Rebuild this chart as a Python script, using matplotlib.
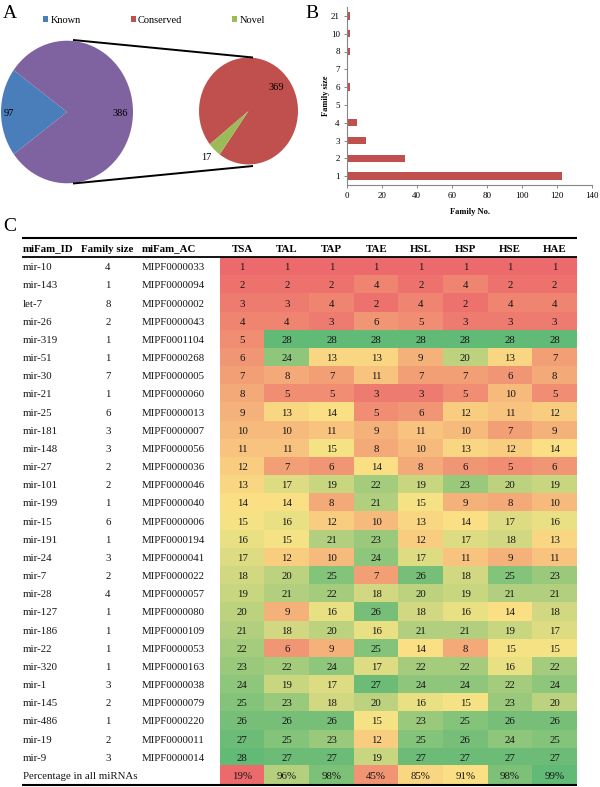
import numpy as np
import matplotlib
matplotlib.use("Agg")
import matplotlib.pyplot as plt
from matplotlib.colors import LinearSegmentedColormap, TwoSlopeNorm

plt.rcParams["font.family"] = ["Liberation Serif", "DejaVu Serif"]

# ---- panel A data ----
mirna_labels = ["Known", "Conserved", "Novel"]
big_pie = [97, 386]          # known vs (conserved + novel)
small_pie = [369, 17]        # conserved vs novel

# ---- panel B data ----
family_sizes = ["1", "2", "3", "4", "5", "6", "7", "8", "10", "21"]
family_counts = [123, 33, 11, 6, 1, 2, 1, 2, 2, 2]

# ---- panel C data ----
tissues = ["TSA", "TAL", "TAP", "TAE", "HSL", "HSP", "HSE", "HAE"]
fam_ids = ["mir-10", "mir-143", "let-7", "mir-26", "mir-319", "mir-51", "mir-30",
           "mir-21", "mir-25", "mir-181", "mir-148", "mir-27", "mir-101", "mir-199",
           "mir-15", "mir-191", "mir-24", "mir-7", "mir-28", "mir-127", "mir-186",
           "mir-22", "mir-320", "mir-1", "mir-145", "mir-486", "mir-19", "mir-9"]
fam_size = [4, 1, 8, 2, 1, 1, 7, 1, 6, 3, 3, 2, 2, 1, 6, 1, 3, 2, 4, 1, 1, 1, 1, 3,
            2, 1, 2, 3]
fam_ac = ["MIPF0000033", "MIPF0000094", "MIPF0000002", "MIPF0000043", "MIPF0001104",
          "MIPF0000268", "MIPF0000005", "MIPF0000060", "MIPF0000013", "MIPF0000007",
          "MIPF0000056", "MIPF0000036", "MIPF0000046", "MIPF0000040", "MIPF0000006",
          "MIPF0000194", "MIPF0000041", "MIPF0000022", "MIPF0000057", "MIPF0000080",
          "MIPF0000109", "MIPF0000053", "MIPF0000163", "MIPF0000038", "MIPF0000079",
          "MIPF0000220", "MIPF0000011", "MIPF0000014"]
ranks = [
    [1, 1, 1, 1, 1, 1, 1, 1],
    [2, 2, 2, 4, 2, 4, 2, 2],
    [3, 3, 4, 2, 4, 2, 4, 4],
    [4, 4, 3, 6, 5, 3, 3, 3],
    [5, 28, 28, 28, 28, 28, 28, 28],
    [6, 24, 13, 13, 9, 20, 13, 7],
    [7, 8, 7, 11, 7, 7, 6, 8],
    [8, 5, 5, 3, 3, 5, 10, 5],
    [9, 13, 14, 5, 6, 12, 11, 12],
    [10, 10, 11, 9, 11, 10, 7, 9],
    [11, 11, 15, 8, 10, 13, 12, 14],
    [12, 7, 6, 14, 8, 6, 5, 6],
    [13, 17, 19, 22, 19, 23, 20, 19],
    [14, 14, 8, 21, 15, 9, 8, 10],
    [15, 16, 12, 10, 13, 14, 17, 16],
    [16, 15, 21, 23, 12, 17, 18, 13],
    [17, 12, 10, 24, 17, 11, 9, 11],
    [18, 20, 25, 7, 26, 18, 25, 23],
    [19, 21, 22, 18, 20, 19, 21, 21],
    [20, 9, 16, 26, 18, 16, 14, 18],
    [21, 18, 20, 16, 21, 21, 19, 17],
    [22, 6, 9, 25, 14, 8, 15, 15],
    [23, 22, 24, 17, 22, 22, 16, 22],
    [24, 19, 17, 27, 24, 24, 22, 24],
    [25, 23, 18, 20, 16, 15, 23, 20],
    [26, 26, 26, 15, 23, 25, 26, 26],
    [27, 25, 23, 12, 25, 26, 24, 25],
    [28, 27, 27, 19, 27, 27, 27, 27],
]
percent = [19, 96, 98, 45, 85, 91, 98, 99]

W, H = 600, 787
fig = plt.figure(figsize=(W / 100, H / 100), dpi=100)

# full-figure axes in pixel units for table + panel letters
axc = fig.add_axes([0, 0, 1, 1])
axc.set_xlim(0, W); axc.set_ylim(H, 0); axc.axis("off")

for lab, x, y in [("A", 3, 18.5), ("B", 305, 18.5), ("C", 3, 231)]:
    axc.text(x, y, lab, fontsize=14, ha="left", va="baseline")

# ===== A: pies =====
A_H, STR = 205, 1.08
axa = fig.add_axes([0, 1 - A_H / H, 300 / W, A_H / H])


def pa(px, py):
    return px, (A_H - py) / STR


blue, purple, red, green = "#4A7EBB", "#7F62A0", "#C0504D", "#9BBB59"
w_big, _ = axa.pie(big_pie, colors=[blue, purple], startangle=144,
                   center=pa(67, 112), radius=66, frame=True,
                   wedgeprops=dict(linewidth=0))
w_small, _ = axa.pie(small_pie, colors=[red, green], startangle=234.4,
                     center=pa(248.5, 111), radius=49.5, frame=True,
                     wedgeprops=dict(linewidth=0))
axa.set_aspect("auto")
axa.set_xlim(0, 300); axa.set_ylim(0, A_H / STR)
axa.axis("off")

for (x0, y0), (x1, y1) in [((73, 40), (253, 57.5)), ((73, 183.5), (253, 166))]:
    p0, p1 = pa(x0, y0), pa(x1, y1)
    axa.plot([p0[0], p1[0]], [p0[1], p1[1]], color="black", lw=1.4,
             solid_capstyle="butt")

for val, (px, py) in zip(big_pie + small_pie,
                         [(8.5, 113.5), (120.5, 113.5), (276.5, 87.5), (206.7, 158)]):
    axa.text(*pa(px, py), str(val), fontsize=7.5, ha="center", va="center")

axa.legend([w_big[0], w_small[0], w_small[1]], mirna_labels, ncol=3,
           frameon=False, fontsize=7.5, handlelength=0.5, handleheight=0.5,
           handletextpad=0.2, columnspacing=4.8, loc="center",
           bbox_to_anchor=(154 / W, 1 - 20.5 / H),
           bbox_transform=fig.transFigure)

# ===== B: family size bars =====
bl, br, bt, bb = 346.7, 592.3, 7, 185
axb = fig.add_axes([bl / W, 1 - bb / H, (br - bl) / W, (bb - bt) / H])
ypos = np.arange(len(family_sizes))
axb.barh(ypos, family_counts, height=0.42, color=red)
axb.set_xlim(0, 140); axb.set_ylim(-0.5, len(family_sizes) - 0.5)
axb.set_xticks(range(0, 141, 20))
axb.set_yticks(ypos)
axb.set_yticklabels(family_sizes)
for s in ["top", "right"]:
    axb.spines[s].set_visible(False)
for s in ["left", "bottom"]:
    axb.spines[s].set_color("#868686")
    axb.spines[s].set_linewidth(0.8)
axb.tick_params(axis="both", labelsize=6.5, length=2.5, width=0.7,
                color="#868686", pad=2.5)
axb.set_xlabel("Family No.", fontsize=6, fontweight="bold")
axb.set_ylabel("Family size", fontsize=6, fontweight="bold")
axb.xaxis.set_label_coords(0.5, -(208 - bb) / (bb - bt))
axb.yaxis.set_label_coords((330 - bl) / (br - bl), 0.5)

# ===== C: ranking table =====
x_left, x_right = 21.7, 577
hm_left = 220
col_w = (x_right - hm_left) / len(tissues)
top_rule, head_rule, tab_top, tab_bot = 238.3, 256.5, 257.5, 784.3
n_rows = len(fam_ids) + 1
row_h = (tab_bot - tab_top) / n_rows
dy = 1.2   # nudge serif text down to optical centre

cmap = LinearSegmentedColormap.from_list("ryg", ["#EC6A6C", "#FBE485", "#62BA77"])
rank_arr = np.array(ranks, dtype=float)
norm_r = TwoSlopeNorm(vmin=1, vcenter=14.5, vmax=28)
axc.imshow(cmap(norm_r(rank_arr)), extent=(hm_left, x_right,
           tab_top + row_h * len(fam_ids), tab_top),
           aspect="auto", interpolation="nearest", zorder=1)
pct = np.array(percent, dtype=float)
norm_p = TwoSlopeNorm(vmin=pct.min(), vcenter=np.median(pct), vmax=pct.max())
axc.imshow(cmap(norm_p(pct))[None, :, :], extent=(hm_left, x_right, tab_bot,
           tab_bot - row_h), aspect="auto", interpolation="nearest", zorder=1)

fs = 7.8
tc = "#151515"
head_y = 249
axc.text(23, head_y, "miFam_ID", fontsize=fs, fontweight="bold", ha="left", va="center")
axc.text(106.7, head_y, "Family size", fontsize=fs, fontweight="bold", ha="center", va="center")
axc.text(142, head_y, "miFam_AC", fontsize=fs, fontweight="bold", ha="left", va="center")
for j, t in enumerate(tissues):
    axc.text(hm_left + col_w * (j + 0.5), head_y, t, fontsize=fs,
             fontweight="bold", ha="center", va="center")

for i in range(len(fam_ids)):
    yc = tab_top + row_h * (i + 0.5) + dy
    axc.text(23, yc, fam_ids[i], fontsize=fs, color=tc, ha="left", va="center")
    axc.text(108, yc, str(fam_size[i]), fontsize=fs, color=tc, ha="center", va="center")
    axc.text(142, yc, fam_ac[i], fontsize=fs, color=tc, ha="left", va="center")
    for j in range(len(tissues)):
        axc.text(hm_left + col_w * (j + 0.5), yc, str(ranks[i][j]), fontsize=fs,
                 color=tc, ha="center", va="center", zorder=3)
yc = tab_bot - row_h / 2 + dy
axc.text(23, yc, "Percentage in all miRNAs", fontsize=fs, color=tc, ha="left", va="center")
for j in range(len(tissues)):
    axc.text(hm_left + col_w * (j + 0.5), yc, f"{percent[j]}%", fontsize=fs,
             color=tc, ha="center", va="center", zorder=3)

for y, lw in [(top_rule, 1.5), (head_rule, 1.3), (tab_bot + 0.6, 1.5)]:
    axc.plot([x_left, x_right], [y, y], color="black", lw=lw, zorder=4,
             solid_capstyle="butt")

fig.savefig("out.png", dpi=100)
